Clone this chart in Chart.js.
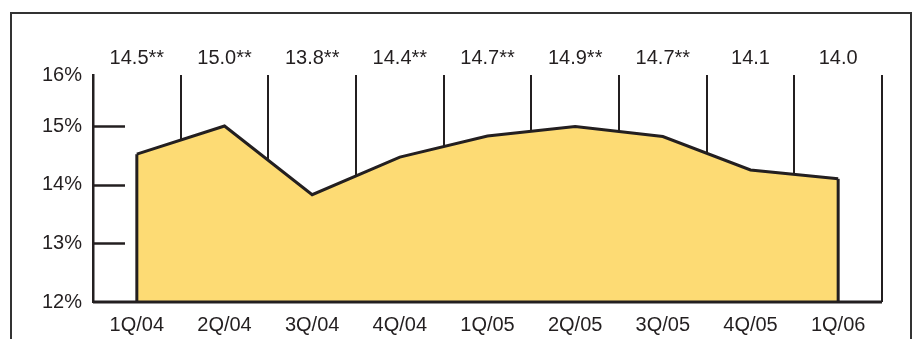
<!DOCTYPE html>
<html>
<head>
<meta charset="utf-8">
<script src="https://cdn.jsdelivr.net/npm/chart.js@4"></script>
<style>
  html, body { margin: 0; padding: 0; background: #fff; }
  #wrap { width: 913px; height: 339px; }
</style>
</head>
<body>
<div id="wrap"><canvas id="chart" width="913" height="339"></canvas></div>
<script>
const quarters = ["1Q/04", "2Q/04", "3Q/04", "4Q/04", "1Q/05", "2Q/05", "3Q/05", "4Q/05", "1Q/06"];
const valueLabels = ["14.5**", "15.0**", "13.8**", "14.4**", "14.7**", "14.9**", "14.7**", "14.1", "14.0"];
const rates = [14.52, 15.0, 13.83, 14.47, 14.83, 14.99, 14.82, 14.25, 14.1];
const yTicks = [12, 13, 14, 15, 15.87];
const yTickLabels = ["12%", "13%", "14%", "15%", "16%"];
const innerTicks = [13, 14, 15];

const ink = "#231f20";
const font = { family: "'Liberation Sans', Arial, sans-serif", size: 20 };

// frame round the whole figure, short inward y ticks, closed ends of the area
const extras = {
    id: "extras",
    beforeDraw(chart) {
        const ctx = chart.ctx;
        ctx.save();
        ctx.strokeStyle = "#333";
        ctx.lineWidth = 2;
        ctx.strokeRect(11, 13, 900, 400);
        ctx.restore();
    },
    beforeDatasetsDraw(chart) {
        const ctx = chart.ctx;
        const y = chart.scales.y;
        ctx.save();
        ctx.strokeStyle = ink;
        ctx.lineWidth = 2.5;
        innerTicks.forEach(v => {
            const py = Math.round(y.getPixelForValue(v)) + 0.5;
            ctx.beginPath();
            ctx.moveTo(chart.chartArea.left, py);
            ctx.lineTo(chart.chartArea.left + 32, py);
            ctx.stroke();
        });
        ctx.restore();
    },
    afterDatasetsDraw(chart) {
        const ctx = chart.ctx;
        const pts = chart.getDatasetMeta(0).data;
        const base = chart.scales.y.getPixelForValue(12);
        ctx.save();
        ctx.strokeStyle = ink;
        ctx.lineWidth = 3;
        [pts[0], pts[pts.length - 1]].forEach(p => {
            ctx.beginPath();
            ctx.moveTo(p.x, p.y);
            ctx.lineTo(p.x, base);
            ctx.stroke();
        });
        // baseline on top of the fill
        ctx.beginPath();
        ctx.moveTo(chart.chartArea.left, base);
        ctx.lineTo(chart.chartArea.right, base);
        ctx.stroke();
        ctx.restore();
    }
};

new Chart(document.getElementById("chart"), {
    type: "line",
    data: {
        labels: quarters,
        datasets: [{
            data: rates,
            borderColor: ink,
            borderWidth: 3,
            backgroundColor: "#fddb74",
            fill: "start",
            tension: 0,
            pointRadius: 0
        }]
    },
    options: {
        responsive: false,
        animation: false,
        layout: { padding: { left: 0, right: 31, top: 0, bottom: 0 } },
        plugins: { legend: { display: false }, tooltip: { enabled: false } },
        scales: {
            x: {
                type: "category",
                offset: true,
                grid: { offset: true, color: ink, lineWidth: 2, drawTicks: false },
                border: { display: false },
                ticks: { color: ink, font: font, padding: 11, maxRotation: 0, autoSkip: false },
                afterFit(s) { s.height = 37; }
            },
            top: {
                type: "category",
                position: "top",
                labels: valueLabels,
                offset: true,
                grid: { display: false, drawTicks: false },
                border: { display: false },
                ticks: { color: ink, font: font, padding: 5, maxRotation: 0, autoSkip: false },
                afterFit(s) { s.height = 75; }
            },
            y: {
                min: 12,
                max: 15.87,
                afterBuildTicks(s) { s.ticks = yTicks.map(v => ({ value: v })); },
                grid: { drawOnChartArea: false, drawTicks: false },
                border: { color: ink, width: 2.5 },
                ticks: {
                    color: ink, font: font, padding: 11,
                    callback: (v, i) => yTickLabels[i]
                },
                afterFit(s) { s.width = 93; }
            }
        }
    },
    plugins: [extras]
});
</script>
</body>
</html>
